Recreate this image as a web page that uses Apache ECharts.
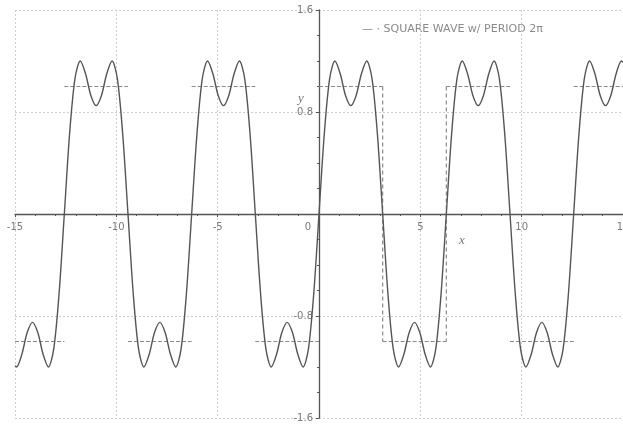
<!DOCTYPE html>
<html>
<head>
<meta charset="utf-8">
<script src="https://cdn.jsdelivr.net/npm/echarts@6/dist/echarts.min.js"></script>
<style>
html,body{margin:0;padding:0;background:#ffffff;}
#chart{width:623px;height:431px;}
</style>
</head>
<body>
<div id="chart"></div>
<script>
// Partial Fourier sum curve
var curveX = [
  -15, -14.923, -14.661, -14.399, -14.137, -13.875, -13.614, -13.352, -13.090, -12.828,
  -12.566,
  -12.305, -12.043, -11.781, -11.519, -11.257, -10.996, -10.734, -10.472, -10.210, -9.948, -9.687,
  -9.425,
  -9.163, -8.901, -8.639, -8.378, -8.116, -7.854, -7.592, -7.330, -7.069, -6.807, -6.545,
  -6.283,
  -6.021, -5.760, -5.498, -5.236, -4.974, -4.712, -4.451, -4.189, -3.927, -3.665, -3.403,
  -3.142,
  -2.880, -2.618, -2.356, -2.094, -1.833, -1.571, -1.309, -1.047, -0.785, -0.524, -0.262,
  0,
  0.262, 0.524, 0.785, 1.047, 1.309, 1.571, 1.833, 2.094, 2.356, 2.618, 2.880,
  3.142,
  3.403, 3.665, 3.927, 4.189, 4.451, 4.712, 4.974, 5.236, 5.498, 5.760, 6.021,
  6.283,
  6.545, 6.807, 7.069, 7.330, 7.592, 7.854, 8.116, 8.378, 8.639, 8.901, 9.163,
  9.425,
  9.687, 9.948, 10.210, 10.472, 10.734, 10.996, 11.257, 11.519, 11.781, 12.043, 12.305,
  12.566,
  12.828, 13.090, 13.352, 13.614, 13.875, 14.137, 14.399, 14.661, 14.923, 15
];
var curveY = [
  -1.19, -1.20, -1.10, -0.93, -0.85, -0.93, -1.10, -1.20, -1.06, -0.63,
  0,
  0.63, 1.06, 1.20, 1.10, 0.93, 0.85, 0.93, 1.10, 1.20, 1.06, 0.63,
  0,
  -0.63, -1.06, -1.20, -1.10, -0.93, -0.85, -0.93, -1.10, -1.20, -1.06, -0.63,
  0,
  0.63, 1.06, 1.20, 1.10, 0.93, 0.85, 0.93, 1.10, 1.20, 1.06, 0.63,
  0,
  -0.63, -1.06, -1.20, -1.10, -0.93, -0.85, -0.93, -1.10, -1.20, -1.06, -0.63,
  0,
  0.63, 1.06, 1.20, 1.10, 0.93, 0.85, 0.93, 1.10, 1.20, 1.06, 0.63,
  0,
  -0.63, -1.06, -1.20, -1.10, -0.93, -0.85, -0.93, -1.10, -1.20, -1.06, -0.63,
  0,
  0.63, 1.06, 1.20, 1.10, 0.93, 0.85, 0.93, 1.10, 1.20, 1.06, 0.63,
  0,
  -0.63, -1.06, -1.20, -1.10, -0.93, -0.85, -0.93, -1.10, -1.20, -1.06, -0.63,
  0,
  0.63, 1.06, 1.20, 1.10, 0.93, 0.85, 0.93, 1.10, 1.20, 1.19
];

// Square wave with period 2*pi: interval edges and level on each interval
var squareEdges  = [-15, -12.566, -9.425, -6.283, -3.142, 0, 3.142, 6.283, 9.425, 12.566, 15];
var squareLevels = [-1, 1, -1, 1, -1, 1, -1, 1, -1, 1];
// Jumps drawn as dashed verticals
var squareJumps  = [3.142, 6.283];

var xTicks = [-15, -10, -5, 0, 5, 10, 15];
var yTicks = [-1.6, -0.8, 0, 0.8, 1.6];
var legendText = '\u2014 \u00b7 SQUARE WAVE w/ PERIOD 2\u03c0';

var chart = echarts.init(document.getElementById('chart'), null, {renderer: 'canvas'});

var curveData = curveX.map(function (x, i) { return [x, curveY[i]]; });

var series = [];
for (var i = 0; i < squareLevels.length; i++) {
  series.push({
    type: 'line', showSymbol: false, silent: true, z: 2,
    data: [[squareEdges[i], squareLevels[i]], [squareEdges[i + 1], squareLevels[i]]],
    lineStyle: {color: '#8a8a8a', width: 1.2, type: [4, 2]}
  });
}
squareJumps.forEach(function (x) {
  series.push({
    type: 'line', showSymbol: false, silent: true, z: 2,
    data: [[x, 1], [x, -1]],
    lineStyle: {color: '#8a8a8a', width: 1.2, type: [4, 3]}
  });
});
series.push({
  type: 'line', showSymbol: false, silent: true, z: 3,
  smooth: 0.3,
  data: curveData,
  lineStyle: {color: '#555555', width: 1.4}
});

var GRID_L = 15, GRID_R = 0, GRID_T = 10, GRID_B = 13;
var W = 623, H = 431;
var plotW = W - GRID_L - GRID_R, plotH = H - GRID_T - GRID_B;
// shift axes so they pass through the origin (labels included)
var yAxisOffset = -plotW * (0 - xTicks[0]) / (xTicks[xTicks.length - 1] - xTicks[0]);
var xAxisOffset = -plotH * (0 - yTicks[0]) / (yTicks[yTicks.length - 1] - yTicks[0]);

var labelColor = '#7a7a7a';
var option = {
  backgroundColor: '#ffffff',
  animation: false,
  grid: {left: GRID_L, right: GRID_R, top: GRID_T, bottom: GRID_B, containLabel: false, outerBoundsMode: 'none'},
  xAxis: {
    type: 'value', min: xTicks[0], max: xTicks[xTicks.length - 1], interval: 5,
    offset: xAxisOffset,
    axisLine: {onZero: false, lineStyle: {color: '#555', width: 1.3}},
    axisTick: {show: true, length: 3, inside: false, lineStyle: {color: '#555'}},
    minorTick: {show: true, splitNumber: 5, length: 2, lineStyle: {color: '#555'}},
    splitLine: {show: true, lineStyle: {color: '#cfcfcf', type: [2, 2], width: 1}},
    axisLabel: {
      show: true, color: labelColor, fontSize: 10, margin: 8,
      fontFamily: 'DejaVu Sans',
      showMinLabel: true, showMaxLabel: true, hideOverlap: false,
      formatter: function (v) { return v === 0 ? '{z|0}' : String(v); },
      rich: {z: {color: labelColor, fontSize: 10, padding: [0, 22, 0, 0], fontFamily: 'DejaVu Sans'}}
    }
  },
  yAxis: {
    type: 'value', min: yTicks[0], max: yTicks[yTicks.length - 1], interval: 0.8,
    offset: yAxisOffset,
    axisLine: {onZero: false, lineStyle: {color: '#555', width: 1.3}},
    axisTick: {show: true, length: 3, lineStyle: {color: '#555'}},
    minorTick: {show: true, splitNumber: 4, length: 2, lineStyle: {color: '#555'}},
    splitLine: {show: true, lineStyle: {color: '#cfcfcf', type: [2, 2], width: 1}},
    axisLabel: {
      show: true, color: labelColor, fontSize: 10, margin: 6,
      fontFamily: 'DejaVu Sans', padding: [6, 0, 0, 0],
      showMinLabel: true, showMaxLabel: true, hideOverlap: false,
      formatter: function (v) { return Math.abs(v) < 1e-9 ? '' : v.toFixed(1); }
    }
  },
  graphic: [
    {type: 'text', left: 362, top: 24, silent: true,
     style: {text: legendText, fill: '#8a8a8a', fontSize: 11, fontFamily: 'DejaVu Sans'}},
    {type: 'text', left: 298, top: 92, silent: true,
     style: {text: 'y', fill: '#777', fontSize: 13, fontStyle: 'italic', fontFamily: 'Liberation Serif'}},
    {type: 'text', left: 459, top: 234, silent: true,
     style: {text: 'x', fill: '#777', fontSize: 13, fontStyle: 'italic', fontFamily: 'Liberation Serif'}}
  ],
  series: series
};
chart.setOption(option);
</script>
</body>
</html>
